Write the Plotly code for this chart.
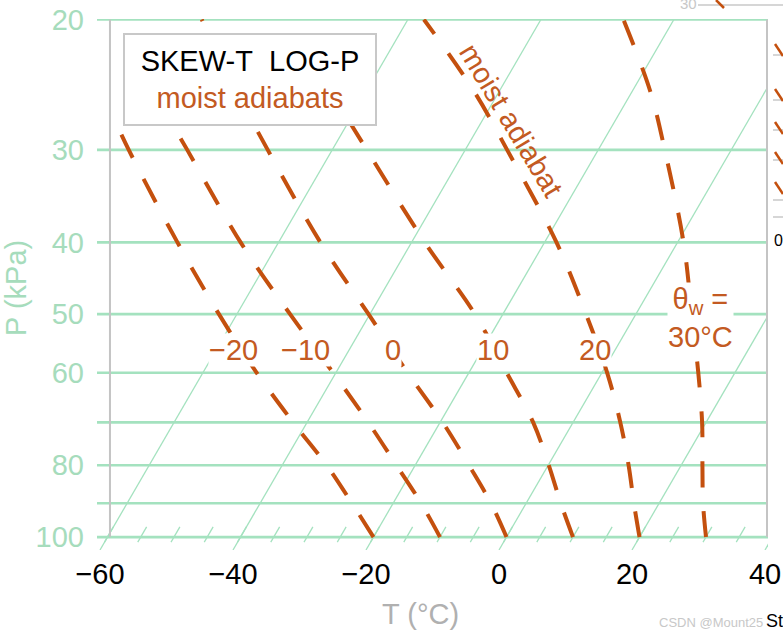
import numpy as np
import plotly.graph_objects as go

# Skew-T geometry
P_REF = 104.1      # kPa at the bottom edge, where the T axis labels sit
SKEW = 28.07       # deg C of horizontal shift per unit ln(p)
P_TOP = 19.97
X_RANGE = [-60.45, 40.45]

ISOBARS = [20, 30, 40, 50, 60, 70, 80, 90, 100]
ISOBAR_TICKS = [20, 30, 40, 50, 60, 80, 100]
ISOTHERMS = [-60, -40, -20, 0, 20, 40]
HATCH_T = list(range(-60, 45, 5))

# Moist adiabats (theta_w in deg C): pressure (kPa) and temperature (deg C)
ADIABAT_P = {
    -20: [100, 90, 80, 70, 60, 50, 40, 30, 26.8],
    -10: [100, 90, 80, 70, 60, 50, 40, 30, 28.1, 25, 21],
    0: [100, 90, 80, 70, 60, 50, 40, 30, 25, 20],
    10: [100, 90, 80, 70, 60, 50, 40, 30, 25, 20],
    20: [100, 90, 80, 70, 60, 50, 40, 30, 25, 20],
    30: [100, 90, 80, 70, 60, 50, 40, 30, 25, 20],
}
ADIABAT_T = {
    -20: [-20, -26.2, -33.3, -42.1, -51.9, -62.7, -75.2, -90.6, -96.3],
    -10: [-10, -15.8, -22.8, -30.8, -40.4, -52.0, -65.7, -81.8, -85.5, -92.1, -101.5],
    0: [0, -5.3, -11.9, -19.6, -29.2, -40.2, -53.7, -69.7, -79.5, -91.0],
    10: [10, 5.2, 0.1, -6.0, -14.3, -24.2, -38.0, -54.8, -65.3, -77.7],
    20: [20, 16.2, 12.1, 7.1, 0.8, -7.5, -18.2, -33.7, -43.8, -57.6],
    30: [30, 26.6, 23.2, 19.4, 14.5, 8.4, 0.9, -10.0, -17.3, -27.6],
}

GREEN = "#a4e2bf"
GREEN_TEXT = "#a6dcbc"
BROWN = "#c4500e"
BROWN_TEXT = "#c35a22"
GRAY = "#c4c4c4"
FONT = "Liberation Sans, Arial, sans-serif"

# pixel layout of the plotting area
L, R, T_M, B = 97, 15, 19, 87
W, H = 783, 637


def skew_x(t, p):
    return np.asarray(t, float) + SKEW * np.log(P_REF / np.asarray(p, float))


def px(x):  # pixel -> paper x
    return (x - L) / (W - L - R)


def py(y):  # pixel -> paper y
    return (H - B - y) / (H - B - T_M)


def note(xpix, ypix, text, font, **kw):
    d = dict(x=px(xpix), y=py(ypix), xref="paper", yref="paper", text=text, showarrow=False,
             xanchor="center", yanchor="middle", font=font)
    d.update(kw)
    return d


fig = go.Figure()

# isobars
for p in ISOBARS:
    fig.add_trace(go.Scatter(x=X_RANGE, y=[p, p], mode="lines", line=dict(color=GREEN, width=2.6),
                             hoverinfo="skip", showlegend=False))

# isotherms
for t in ISOTHERMS:
    fig.add_trace(go.Scatter(
        x=skew_x([t, t], [P_REF, P_TOP]), y=[P_REF, P_TOP], mode="lines",
        line=dict(color=GREEN, width=1.3), hoverinfo="skip", showlegend=False,
    ))

# small hatch ticks along the 100 kPa line
hx, hy = [], []
for t in HATCH_T:
    hx += list(skew_x([t, t], [101.6, 96.9])) + [None]
    hy += [101.6, 96.9, None]
fig.add_trace(go.Scatter(x=hx, y=hy, mode="lines", line=dict(color=GREEN, width=1.3),
                         hoverinfo="skip", showlegend=False))

# frame sides
for xs in (-58.5, 40.3):
    fig.add_trace(go.Scatter(x=[xs, xs], y=[100, 20], mode="lines",
                             line=dict(color=GRAY, width=2), hoverinfo="skip", showlegend=False))

# moist adiabats
for tw in ADIABAT_T:
    fig.add_trace(go.Scatter(
        x=skew_x(ADIABAT_T[tw], ADIABAT_P[tw]), y=ADIABAT_P[tw], mode="lines",
        line=dict(color=BROWN, width=4, dash="26px,24px", shape="spline"),
        name=f"{tw}", showlegend=False,
    ))

label_font = dict(family=FONT, size=29, color=BROWN_TEXT)
annotations = []
for text, xpix in [("−20", 233), ("−10", 305), ("0", 393), ("10", 493), ("20", 595)]:
    annotations.append(note(xpix, 350, text, label_font, bgcolor="white", borderpad=0))
annotations.append(note(700, 318, "θ<sub>w</sub> =<br>30°C", label_font, bgcolor="white", borderpad=0))
annotations.append(note(511, 120, "moist adiabat", label_font, textangle=59))

# title box
annotations.append(note(
    250, 79.5, "SKEW-T\u00a0 LOG-P<br><span style='color:%s'>moist adiabats</span>" % BROWN_TEXT,
    dict(family=FONT, size=29, color="black"), bgcolor="white",
    bordercolor="#c8c8c8", borderwidth=2, borderpad=8, width=234, height=73,
))

# axis titles
annotations.append(note(16, 288, "P (kPa)", dict(family=FONT, size=29, color=GREEN_TEXT), textangle=-90))
annotations.append(note(420, 614, "T (°C)", dict(family=FONT, size=29, color="#b0b0b0")))

# scan leftovers at the page edge
annotations.append(note(711, 622, "CSDN @Mount25", dict(family=FONT, size=13, color="#c8c8c8")))
annotations.append(note(774, 621, "St", dict(family=FONT, size=18, color="black")))
annotations.append(note(688, 4, "30", dict(family=FONT, size=15, color="#c8c8c8")))
annotations.append(note(778, 240, "0", dict(family=FONT, size=16, color="black")))

shapes = [dict(type="line", xref="paper", yref="paper", x0=px(698), x1=px(783), y0=py(5), y1=py(5),
               line=dict(color="#c8c8c8", width=1.5))]
for y in (55, 100, 130, 160, 200, 217):
    shapes.append(dict(type="line", xref="paper", yref="paper", x0=px(773), x1=px(783), y0=py(y), y1=py(y),
                       line=dict(color="#c8c8c8", width=1.5)))
for y in (50, 95, 128, 158, 188):
    shapes.append(dict(type="line", xref="paper", yref="paper", x0=px(775), x1=px(783), y0=py(y - 6), y1=py(y + 6),
                       line=dict(color=BROWN, width=2.5)))
shapes.append(dict(type="line", xref="paper", yref="paper", x0=px(716), x1=px(724), y0=py(0), y1=py(8),
                   line=dict(color=BROWN, width=2.5)))

fig.update_layout(
    width=W, height=H,
    margin=dict(l=L, r=R, t=T_M, b=B, autoexpand=False),
    plot_bgcolor="white", paper_bgcolor="white",
    font=dict(family=FONT),
    annotations=annotations, shapes=shapes,
    showlegend=False,
)
fig.update_xaxes(
    range=X_RANGE, tickvals=ISOTHERMS, showgrid=False, zeroline=False, showline=False, automargin=False,
    ticks="", tickfont=dict(family=FONT, size=29, color="black"), ticklabelstandoff=4,
)
fig.update_yaxes(
    type="log", range=[np.log10(P_REF), np.log10(P_TOP)], tickvals=ISOBAR_TICKS,
    showgrid=False, zeroline=False, showline=False, ticks="", automargin=False,
    tickfont=dict(family=FONT, size=29, color=GREEN_TEXT), ticklabelstandoff=12,
)

fig.write_html("out.html", config={"displayModeBar": False},
               post_script="document.body.style.margin = '0px';")
